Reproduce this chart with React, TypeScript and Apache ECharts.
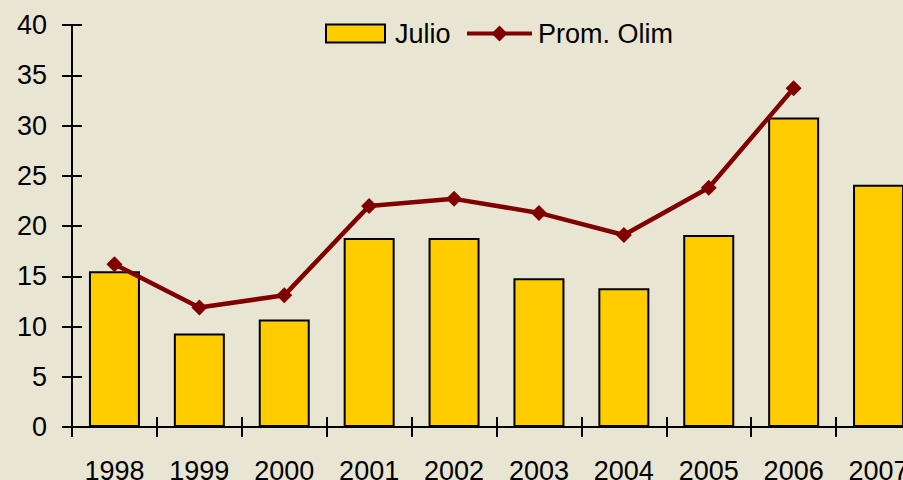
import React, { useEffect, useRef } from "react";
import * as echarts from "echarts";

const years = ["1998", "1999", "2000", "2001", "2002", "2003", "2004", "2005", "2006", "2007"];
const julio = [15.5, 9.3, 10.7, 18.8, 18.8, 14.8, 13.8, 19.1, 30.8, 24.1];
const promOlim: (number | null)[] = [16.2, 11.9, 13.1, 22.0, 22.7, 21.3, 19.1, 23.8, 33.7, null];

const FONT = "'Liberation Sans', Arial, sans-serif";
const BG = "#E8E6D3";

export default function App() {
  const ref = useRef<HTMLDivElement>(null);
  useEffect(() => {
    if (!ref.current) return;
    const chart = echarts.init(ref.current, undefined, { renderer: "svg" });
    const axisLine = { show: true, lineStyle: { color: "#000", width: 2 } };
    chart.setOption({
      animation: false,
      backgroundColor: BG,
      textStyle: { fontFamily: FONT },
      grid: {
        left: 72,
        top: 25,
        width: 849,
        height: 402,
        containLabel: false,
        outerBoundsMode: "none",
      },
      legend: [
        {
          data: ["Julio"],
          left: 325,
          top: 20,
          padding: 0,
          icon: "rect",
          itemWidth: 59,
          itemHeight: 18,
          itemStyle: { borderColor: "#000", borderWidth: 2 },
          textStyle: { fontSize: 27, color: "#000", fontFamily: FONT, padding: [0, 0, 0, 5] },
        },
        {
          data: ["Prom. Olim"],
          left: 465,
          top: 20,
          padding: 0,
          itemWidth: 65,
          itemHeight: 20,
          lineStyle: { width: 4, color: "#800000" },
          textStyle: { fontSize: 27, color: "#000", fontFamily: FONT, padding: [0, 0, 0, 1] },
        },
      ],
      xAxis: [
        {
          type: "category",
          data: years,
          axisLine,
          axisTick: { show: true, length: 10, lineStyle: { color: "#000", width: 2 } },
          axisLabel: { fontSize: 27, color: "#000", margin: 30, fontFamily: FONT },
          splitLine: { show: false },
        },
        {
          type: "category",
          data: years,
          position: "bottom",
          axisLine: { show: false },
          axisTick: { show: true, inside: true, length: 10, lineStyle: { color: "#000", width: 2 } },
          axisLabel: { show: false },
          splitLine: { show: false },
        },
      ],
      yAxis: [
        {
          type: "value",
          min: 0,
          max: 40,
          interval: 5,
          axisLine,
          axisTick: { show: true, length: 10, lineStyle: { color: "#000", width: 2 } },
          axisLabel: { fontSize: 27, color: "#000", margin: 25, fontFamily: FONT },
          splitLine: { show: false },
        },
        {
          type: "value",
          min: 0,
          max: 40,
          interval: 5,
          position: "left",
          axisLine: { show: false },
          axisTick: { show: true, inside: true, length: 10, lineStyle: { color: "#000", width: 2 } },
          axisLabel: { show: false },
          splitLine: { show: false },
        },
      ],
      series: [
        {
          name: "Julio",
          type: "bar",
          data: julio,
          barWidth: 51,
          itemStyle: { color: "#FFCC00", borderColor: "#000", borderWidth: 2 },
        },
        {
          name: "Prom. Olim",
          type: "line",
          data: promOlim,
          symbol: "diamond",
          symbolSize: 16,
          lineStyle: { color: "#800000", width: 4.5 },
          itemStyle: { color: "#800000" },
          connectNulls: false,
        },
      ],
    });
    return () => chart.dispose();
  }, []);
  return (
    <div
      style={{
        position: "absolute",
        left: 0,
        top: 0,
        width: 903,
        height: 480,
        overflow: "hidden",
        background: BG,
      }}
    >
      <div ref={ref} style={{ width: 924, height: 480 }} />
    </div>
  );
}
